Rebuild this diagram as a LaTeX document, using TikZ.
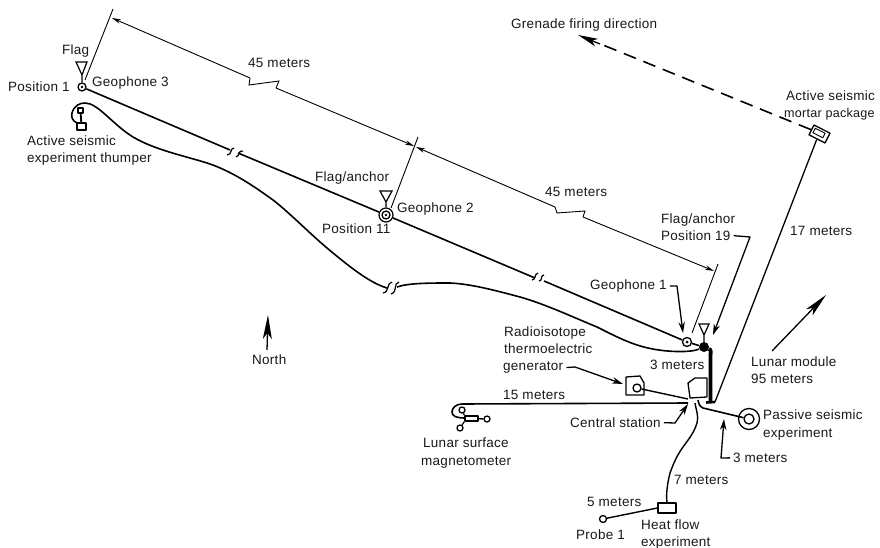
\documentclass[tikz,border=0pt]{standalone}
\usepackage{fontspec}
\setmainfont{Liberation Sans}[LetterSpace=2]
\usetikzlibrary{arrows.meta}
\tikzset{
 lbl/.style={inner sep=0pt,anchor=base west,yshift=-4.5pt,font=\fontsize{13.5}{16}\selectfont,text=black!90},
 cable/.style={line width=1.6pt,line join=round},
 thinl/.style={line width=0.9pt},
 dimline/.style={line width=0.9pt,line join=miter},
 dimtip/.style={line width=0.9pt,-{Stealth[length=9pt,width=4.5pt]}},
 lead/.style={line width=1.3pt,line join=round,-{Stealth[length=11pt,width=6.5pt]}},
 flagshape/.style={line width=1.2pt,line join=miter},
 inst/.style={line width=1.3pt,fill=white,line join=round},
 ring/.style={circle,draw,line width=1.3pt,fill=white,inner sep=0pt,minimum size=#1},
 bigarrow/.style={line width=1.3pt,-{Stealth[length=24pt,width=9pt,inset=6pt]}},
}
\begin{document}
\begin{tikzpicture}[x=1pt,y=-1pt]
\useasboundingbox (0,0) rectangle (880,548);
\fill[white] (0,0) rectangle (880,548);
% ---------- named points
\coordinate (tick1a) at (113,9);   \coordinate (tick1b) at (85,80);
\coordinate (tick2a) at (418,137); \coordinate (tick2b) at (391,208);
\coordinate (tick3a) at (718,264); \coordinate (tick3b) at (692,333);
\coordinate (corner) at (715,402);
% ---------- instruments
\node[ring=8pt] (p1) at (82,87) {};
\fill (p1) circle (1.3);
\node[circle,draw,line width=1.2pt,inner sep=0pt,minimum size=14pt] (p11o) at (386,215) {};
\node[ring=8pt] (p11) at (386,215) {};
\fill (p11) circle (1.3);
\node[ring=9pt] (g1) at (687,342) {};
\fill (g1) circle (1.5);
\node[circle,fill=black,inner sep=0pt,minimum size=10pt] (a19) at (704,347) {};
% ---------- flags
\draw[flagshape] (76,62) -- (87,62) -- (82,75) -- cycle (82,75) -- (p1.north);
\draw[flagshape] (380,191) -- (392,191) -- (386,202) -- cycle (386,202) -- (p11o.north);
\draw[flagshape] (699,324) -- (709,324) -- (704,335) -- cycle (704,335) -- (a19.north);
% ---------- main cable with breaks
\draw[cable] (p1) -- (230,150);
\draw[cable] (238,153) -- (p11o);
\draw[cable] (p11o) -- (535,278);
\draw[cable] (544,281) -- (g1);
\draw[cable] (g1) -- (a19);
\draw[line width=1.2pt] (227,155) .. controls (232,155) and (230,148) .. (234,148);
\draw[line width=1.2pt] (236,157) .. controls (240,156) and (238,150) .. (243,151);
\draw[line width=1.2pt] (532,280) .. controls (536,280) and (534,274) .. (538,273);
\draw[line width=1.2pt] (539,281) .. controls (543,281) and (540,275) .. (544,275);
% ---------- lower cable
\draw[cable] (77,123) .. controls (72,121) and (71,116) .. (72,113)
   .. controls (74,106) and (79,103) .. (85,103)
   .. controls (98,103) and (112,124) .. (133,137)
   .. controls (155,150) and (185,156) .. (207,163)
   .. controls (232,171) and (255,187) .. (273,200)
   .. controls (290,213) and (312,236) .. (333,253)
   .. controls (350,267) and (370,283) .. (387,288);
\draw[cable] (397,287) .. controls (408,283) and (430,283) .. (450,283)
   .. controls (470,284) and (490,289) .. (520,297)
   .. controls (545,304) and (575,318) .. (597,327)
   .. controls (615,336) and (630,344) .. (648,348)
   .. controls (665,352) and (690,353) .. (a19);
\draw[line width=1.2pt] (383,293) .. controls (390,292) and (386,283) .. (392,282);
\draw[line width=1.2pt] (391,294) .. controls (398,292) and (393,283) .. (399,282);
% ---------- thumper
\node[inst,draw,minimum width=9pt,minimum height=7pt,inner sep=0pt] (thbox) at (81.5,126.5) {};
\node[inst,draw,minimum width=5pt,minimum height=5pt,inner sep=0pt] (thtop) at (80.5,110.5) {};
\draw[line width=1.8pt] (thtop) -- (thbox);
% ---------- dimension lines
\draw[thinl] (tick1a) -- (tick1b);
\draw[thinl] (tick2a) -- (tick2b);
\draw[thinl] (tick3a) -- (tick3b);
\coordinate (d1) at (112,18);
\coordinate (d2) at (414,146);
\coordinate (d3) at (416,147);
\coordinate (d4) at (714,271);
\draw[dimline] (250,78) -- (249,85) -- (279,81) -- (276,88);
\draw[dimtip] (250,78) -- (d1);
\draw[dimtip] (276,88) -- (d2);
\draw[dimline] (555,207) -- (557,213) -- (585,211) -- (583,217);
\draw[dimtip] (555,207) -- (d3);
\draw[dimtip] (583,217) -- (d4);
% ---------- mortar
\node[inst,draw,minimum width=18pt,minimum height=11pt,inner sep=0pt,rotate=-27] (mortar) at (819.5,134) {};
\node[draw,line width=0.9pt,minimum width=11pt,minimum height=5pt,inner sep=0pt,rotate=-27] at (819,133) {};
\coordinate (gtip) at (578,35);
\draw[line width=1.6pt,dash pattern=on 13pt off 8pt] (mortar.west) -- (603,45);
\draw[line width=1.3pt,-{Stealth[length=20pt,width=8pt,inset=5pt]}] (600,44) -- (gtip);
% ---------- 17 m line
\draw[line width=1.3pt] (mortar.south) -- (corner);
% ---------- central station and trunk
\draw[line width=3.8pt] (a19) to[out=-20,in=90] (710.5,356) -- (710.5,402);
\draw[line width=2.6pt] (706,402.5) -- (corner);
\draw[inst] (688,383) -- (695,378) -- (707,378) -- (707,397) -- (690,398) -- cycle;
% ---------- RTG
\draw[inst] (626,377) -- (640,376) -- (644,383) -- (644,395) -- (626,395) -- cycle;
\node[ring=8pt] (rtgc) at (637,388) {};
\draw[line width=1.4pt] (rtgc) -- (688,399);
% ---------- passive seismic
\node[ring=21pt] (pso) at (749,419) {};
\node[ring=10pt] (psi) at (749,419) {};
\draw[line width=1.6pt] (698,400) .. controls (699,404) and (699,406) .. (703,408) -- (psi);
% ---------- magnetometer cable and instrument
\draw[cable] (688,403) -- (462,404) .. controls (456,404) and (452,408) .. (452,412)
  .. controls (452,416) and (456,418) .. (465,418);
\node[inst,draw,minimum width=13pt,minimum height=5pt,inner sep=0pt] (mbody) at (471.5,418.5) {};
\node[ring=6pt] (m1) at (462,410) {};
\node[ring=6pt] (m2) at (460,428) {};
\node[ring=6pt] (m3) at (487,419) {};
\draw[line width=1.2pt] (m1) -- (mbody.north west);
\draw[line width=1.2pt] (m2) -- (mbody.south west);
\draw[line width=1.4pt] (mbody) -- (m3);
% ---------- heat flow
\node[inst,draw,minimum width=18pt,minimum height=10pt,inner sep=0pt] (heat) at (667,508) {};
\node[ring=7pt] (probe) at (603,519) {};
\draw[line width=1.4pt] (probe) -- (heat.west);
\draw[line width=1.4pt] (695,403) .. controls (696,410) and (699,416) .. (697,423)
  .. controls (694,433) and (688,440) .. (683,447)
  .. controls (675,458) and (672,468) .. (670,473)
  .. controls (667,485) and (666,495) .. (heat.north);
% ---------- north and lunar module arrows
\coordinate (ntail) at (267,350); \coordinate (ntip) at (268,315);
\draw[bigarrow] (ntail) -- (ntip);
\coordinate (lmtail) at (772,351); \coordinate (lmtip) at (826,295);
\draw[bigarrow] (lmtail) -- (lmtip);
% ---------- labels
\node[lbl] at (8,87) {Position 1};
\node[lbl] at (62,50) {Flag};
\node[lbl] at (92,82) {Geophone 3};
\node[lbl] at (248,63) {45 meters};
\node[lbl] at (27,141) {Active seismic};
\node[lbl] at (27,158) {experiment thumper};
\node[lbl] at (315,177) {Flag/anchor};
\node[lbl] at (397,208) {Geophone 2};
\node[lbl] at (322,229) {Position 11};
\node[lbl] at (545,192) {45 meters};
\node[lbl] at (661,219) {Flag/anchor};
\node[lbl] (lp19) at (661,236) {Position 19};
\node[lbl] (lg1) at (590,285) {Geophone 1};
\node[lbl] at (504,332) {Radioisotope};
\node[lbl] at (504,349) {thermoelectric};
\node[lbl] (lrtg) at (503,366) {generator};
\node[lbl] at (252,360) {North};
\node[lbl] at (751,362) {Lunar module};
\node[lbl] at (751,379) {95 meters};
\node[lbl] at (763,415) {Passive seismic};
\node[lbl] at (763,433) {experiment};
\node[lbl] at (790,231) {17 meters};
\node[lbl] at (511,24) {Grenade firing direction};
\node[lbl] at (786,96) {Active seismic};
\node[lbl,font=\fontsize{12.6}{16}\selectfont] at (784,113) {mortar package};
\node[lbl] at (503,395) {15 meters};
\node[lbl] (lcs) at (570,423) {Central station};
\node[lbl] at (423,443) {Lunar surface};
\node[lbl] at (421,461) {magnetometer};
\node[lbl] at (674,480) {7 meters};
\node[lbl] at (587,502) {5 meters};
\node[lbl] at (576,535) {Probe 1};
\node[lbl] at (641,525) {Heat flow};
\node[lbl] at (641,542) {experiment};
\node[lbl] at (650,365) {3 meters};
\node[lbl] (l3m) at (733,458) {3 meters};
% ---------- leaders
\coordinate (t19) at (713,335); \coordinate (tg1) at (683,333);
\coordinate (trtg) at (623,384); \coordinate (tcs) at (688,404);
\coordinate (t3m) at (724,419);
\draw[lead] (lp19.east) ++(3,0) -- (750,237) -- (t19);
\draw[lead] (lg1.east) ++(3,0) -- (677,286) -- (tg1);
\draw[lead] (lrtg.east) ++(3,0) -- (575,367) -- (trtg);
\draw[lead] (lcs.east) ++(3,0) -- (675,423) -- (tcs);
\draw[lead] (l3m.west) ++(-3,0) -- (721,458) -- (t3m);
\end{tikzpicture}
\end{document}
